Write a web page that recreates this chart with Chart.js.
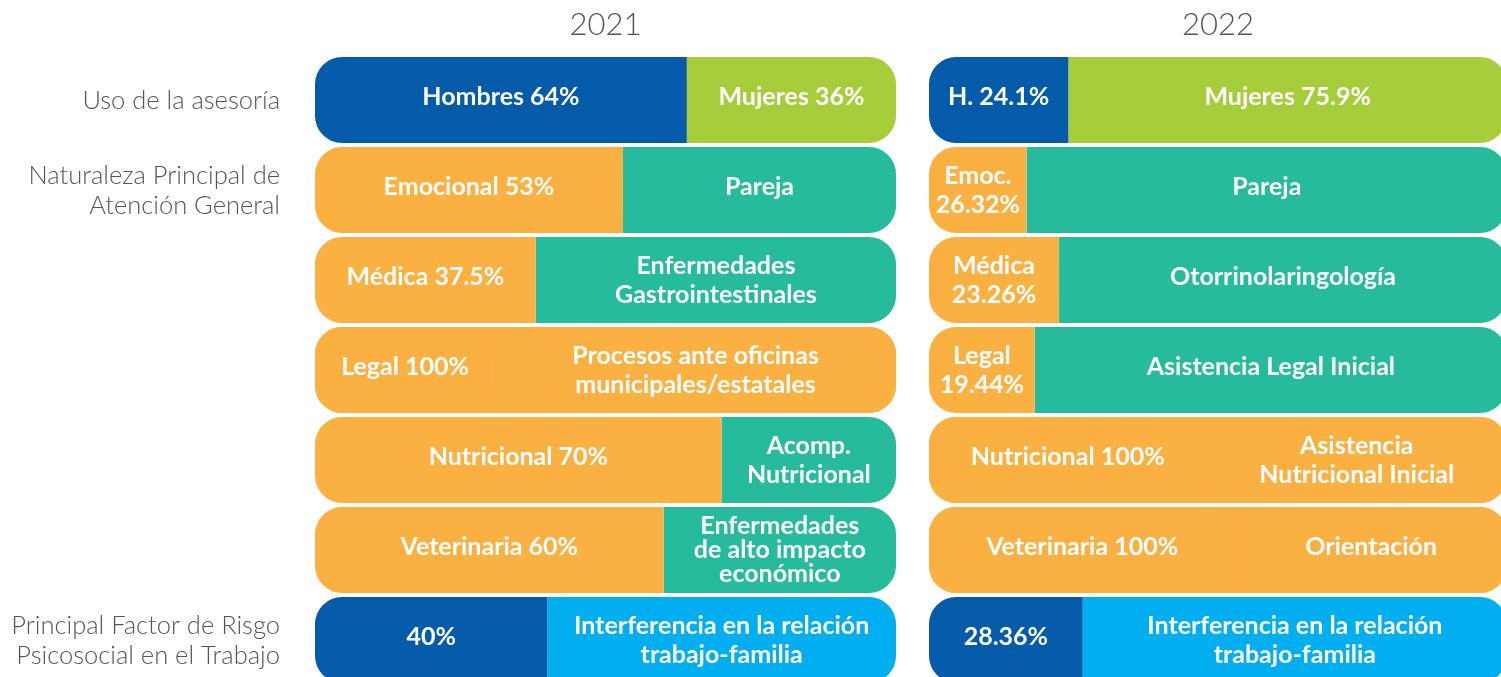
<!DOCTYPE html>
<html>
<head>
<meta charset="utf-8">
<script src="https://cdn.jsdelivr.net/npm/chart.js@4.4.0/dist/chart.umd.min.js"></script>
<style>
  html, body { margin:0; padding:0; background:#fff; overflow:hidden; width:1501px; height:677px; }
  #wrap { position:relative; width:1501px; height:677px; overflow:hidden; }
  canvas { position:absolute; top:0; }
  #c2021 { left:0; }
  #c2022 { left:905px; }
</style>
</head>
<body>
<div id="wrap">
  <canvas id="c2021" width="905" height="685"></canvas>
  <canvas id="c2022" width="640" height="685"></canvas>
</div>
<script>
// --- Data ---
const rowLabels = [
  'Uso de la asesoría',
  ['Naturaleza Principal de', 'Atención General'],
  '', '', '', '',
  ['Principal Factor de Risgo', 'Psicosocial en el Trabajo']
];
const years = ['2021', '2022'];

// width of the first segment in each row (share of the bar, %)
const share2021 = [64, 53, 38, 31, 70, 60, 40];
const share2022 = [24.1, 16.9, 22.5, 18.3, 48, 53, 26.6];

const textLeft2021 = ['Hombres 64%', 'Emocional 53%', 'Médica 37.5%', 'Legal 100%', 'Nutricional 70%', 'Veterinaria 60%', '40%'];
const textRight2021 = ['Mujeres 36%', 'Pareja', ['Enfermedades', 'Gastrointestinales'], ['Procesos ante oficinas', 'municipales/estatales'],
  ['Acomp.', 'Nutricional'], ['Enfermedades', 'de alto impacto', 'económico'], ['Interferencia en la relación', 'trabajo-familia']];
const textLeft2022 = ['H. 24.1%', ['Emoc.', '26.32%'], ['Médica', '23.26%'], ['Legal', '19.44%'], 'Nutricional 100%', 'Veterinaria 100%', '28.36%'];
const textRight2022 = ['Mujeres 75.9%', 'Pareja', 'Otorrinolaringología', 'Asistencia Legal Inicial',
  ['Asistencia', 'Nutricional Inicial'], 'Orientación', ['Interferencia en la relación', 'trabajo-familia']];

// --- Colours ---
const BLUE = '#035ba9', GREEN = '#a7ce3a', ORANGE = '#fbb042', TEAL = '#25bb9c', SKY = '#01aeef';
const colLeft2021  = [BLUE, ORANGE, ORANGE, ORANGE, ORANGE, ORANGE, BLUE];
const colRight2021 = [GREEN, TEAL, TEAL, ORANGE, TEAL, TEAL, SKY];
const colLeft2022  = [BLUE, ORANGE, ORANGE, ORANGE, ORANGE, ORANGE, BLUE];
const colRight2022 = [GREEN, TEAL, TEAL, TEAL, ORANGE, ORANGE, SKY];

const R = 27;

// --- draw the segment labels centred in each bar ---
const barText = {
  id: 'barText',
  afterDatasetsDraw(chart) {
    const ctx = chart.ctx;
    ctx.save();
    ctx.fillStyle = '#fff';
    ctx.textAlign = 'center';
    ctx.textBaseline = 'middle';
    ctx.font = '700 25px Lato';
    chart.data.datasets.forEach((ds, di) => {
      if (!ds.texts) return;
      chart.getDatasetMeta(di).data.forEach((bar, i) => {
        let t = ds.texts[i];
        if (!t) return;
        const lines = Array.isArray(t) ? t : [t];
        const lh = lines.length > 2 ? 24 : 29;
        const shift = lines.length > 1 ? 0 : -3;
        const {x, y, base} = bar.getProps(['x', 'y', 'base'], true);
        const cx = (x + base) / 2;
        lines.forEach((s, k) => ctx.fillText(s, cx, y + (k - (lines.length - 1) / 2) * lh + shift));
      });
    });
    ctx.restore();
  }
};

function makeChart(id, year, share, tl, tr, cl, cr, showLabels, yWidth, padRight) {
  // rows where both segments share one colour get a full backing bar, so no seam shows
  const backing = cl.map((c, i) => (c === cr[i] ? 100 : null));
  return new Chart(document.getElementById(id), {
    type: 'bar',
    data: {
      labels: rowLabels,
      datasets: [
        { data: share, texts: tl, backgroundColor: cl, stack: 'main', order: 0,
          borderRadius: {topLeft: R, bottomLeft: R, topRight: 0, bottomRight: 0} },
        { data: share.map(v => 100 - v), texts: tr, backgroundColor: cr, stack: 'main', order: 0,
          borderRadius: {topLeft: 0, bottomLeft: 0, topRight: R, bottomRight: R} },
        { data: backing, backgroundColor: cl, stack: 'bg', grouped: false, order: 1,
          borderRadius: R }
      ]
    },
    options: {
      indexAxis: 'y',
      responsive: false,
      animation: false,
      devicePixelRatio: 1,
      layout: { padding: { left: 0, right: padRight, top: 0, bottom: 0 } },
      datasets: { bar: { borderSkipped: false, categoryPercentage: 1, barPercentage: 0.955 } },
      plugins: { legend: { display: false }, tooltip: { enabled: false } },
      scales: {
        x: {
          position: 'top', stacked: true, min: 0, max: 100,
          grid: { display: false }, border: { display: false },
          ticks: { display: false },
          title: { display: true, text: year, color: '#555', font: { family: 'Lato', size: 31, weight: 300 }, padding: { top: 6, bottom: 0 } },
          afterFit: s => { s.height = 55; }
        },
        y: {
          stacked: true,
          grid: { display: false, drawTicks: false }, border: { display: false },
          ticks: { display: showLabels, color: '#555', padding: 35, labelOffset: 1,
                   font: { family: 'Lato', size: 25.5, weight: 300, lineHeight: 1.18 } },
          afterFit: s => { s.width = yWidth; s.paddingTop = 0; s.paddingBottom = 0; }
        }
      }
    },
    plugins: [barText]
  });
}

makeChart('c2021', years[0], share2021, textLeft2021, textRight2021, colLeft2021, colRight2021, true, 315, 9);
makeChart('c2022', years[1], share2022, textLeft2022, textRight2022, colLeft2022, colRight2022, false, 24, 38);
</script>
</body>
</html>
